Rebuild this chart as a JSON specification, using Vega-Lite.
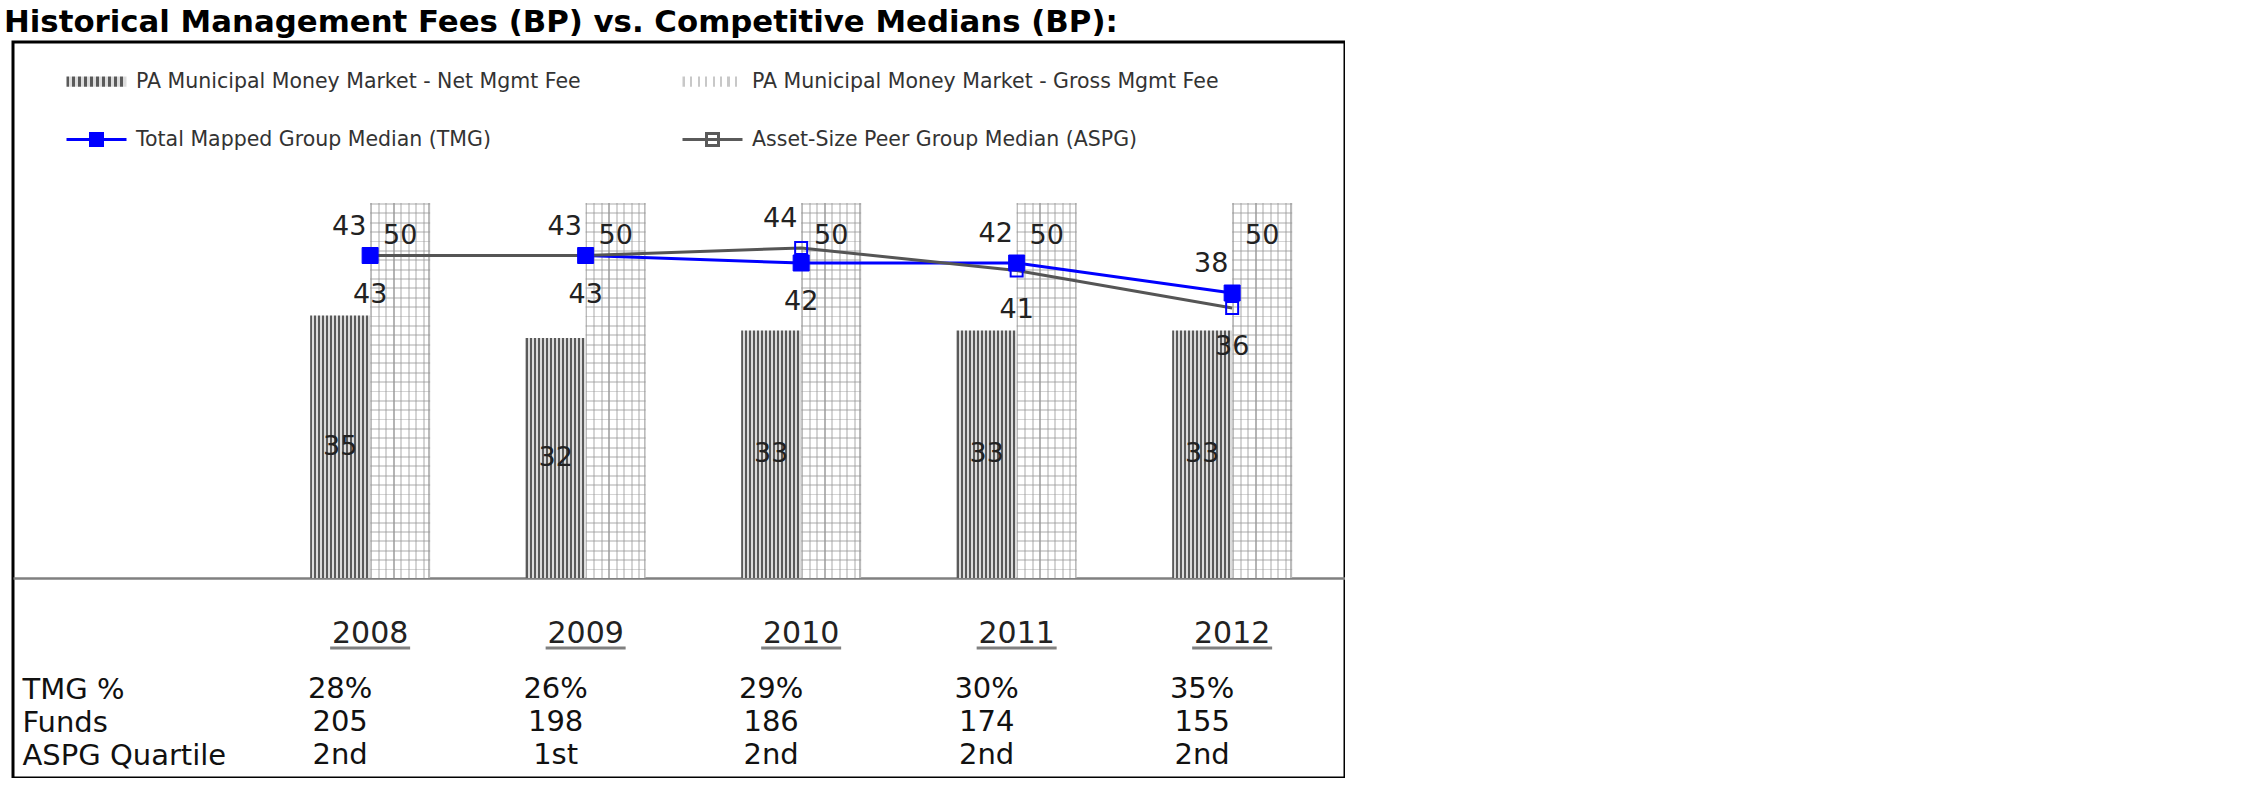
{
  "$schema": "https://vega.github.io/schema/vega-lite/v6.json",
  "width": 1332,
  "height": 736,
  "autosize": {"type": "none"},
  "padding": {"left": 13, "top": 42, "right": 0, "bottom": 0},
  "background": "#ffffff",
  "title": {
    "text": "Historical Management Fees (BP) vs. Competitive Medians (BP):",
    "anchor": "start",
    "frame": "group",
    "dx": -9,
    "dy": 30,
    "offset": 9,
    "baseline": "alphabetic",
    "font": "DejaVu Sans",
    "fontSize": 30.8,
    "fontWeight": "bold",
    "color": "#000000"
  },
  "data": {
    "values": [
      {"year": "2008", "net": 35, "gross": 50, "tmg": 43, "aspg": 43, "tmgPct": "28%", "funds": 205, "quartile": "2nd"},
      {"year": "2009", "net": 32, "gross": 50, "tmg": 43, "aspg": 43, "tmgPct": "26%", "funds": 198, "quartile": "1st"},
      {"year": "2010", "net": 33, "gross": 50, "tmg": 42, "aspg": 44, "tmgPct": "29%", "funds": 186, "quartile": "2nd"},
      {"year": "2011", "net": 33, "gross": 50, "tmg": 42, "aspg": 41, "tmgPct": "30%", "funds": 174, "quartile": "2nd"},
      {"year": "2012", "net": 33, "gross": 50, "tmg": 38, "aspg": 36, "tmgPct": "35%", "funds": 155, "quartile": "2nd"}
    ]
  },
  "resolve": {"scale": {"y": "independent"}},
  "layer": [
    {
      "encoding": {
        "x": {
          "field": "year",
          "type": "ordinal",
          "scale": {"type": "band", "paddingInner": 0.4432, "paddingOuter": 0.812, "align": 0.849},
          "axis": {
            "orient": "bottom",
            "offset": -200,
            "title": null,
            "ticks": false,
            "grid": false,
            "domainColor": "#808080",
            "domainWidth": 2.5,
            "labelFont": "DejaVu Sans",
            "labelFontSize": 30,
            "labelColor": "#222222",
            "labelPadding": 40,
            "labelAngle": 0
          }
        }
      },
      "layer": [
        {
          "mark": {
            "type": "point",
            "filled": true,
            "size": 0,
            "strokeWidth": 3,
            "shape": {"expr": "(datum.value === 'PA Municipal Money Market - Net Mgmt Fee' || datum.value === 'PA Municipal Money Market - Gross Mgmt Fee') ? 'M-1,-0.17H1V0.17H-1Z' : (datum.value === 'Total Mapped Group Median (TMG)' || datum.value === 'Asset-Size Peer Group Median (ASPG)') ? 'M-1,0H1M-0.2,-0.2H0.2V0.2H-0.2Z' : 'square'"},
            "fill": {"expr": "datum.value === 'PA Municipal Money Market - Net Mgmt Fee' ? {gradient: 'linear', x1: 0, y1: 0, x2: 1, y2: 0, stops: [{offset: 0, color: '#5a5a5a'}, {offset: 0.05, color: '#5a5a5a'}, {offset: 0.05, color: '#dcdcdc'}, {offset: 0.1, color: '#dcdcdc'}, {offset: 0.1, color: '#5a5a5a'}, {offset: 0.15, color: '#5a5a5a'}, {offset: 0.15, color: '#dcdcdc'}, {offset: 0.2, color: '#dcdcdc'}, {offset: 0.2, color: '#5a5a5a'}, {offset: 0.25, color: '#5a5a5a'}, {offset: 0.25, color: '#dcdcdc'}, {offset: 0.3, color: '#dcdcdc'}, {offset: 0.3, color: '#5a5a5a'}, {offset: 0.35, color: '#5a5a5a'}, {offset: 0.35, color: '#dcdcdc'}, {offset: 0.4, color: '#dcdcdc'}, {offset: 0.4, color: '#5a5a5a'}, {offset: 0.45, color: '#5a5a5a'}, {offset: 0.45, color: '#dcdcdc'}, {offset: 0.5, color: '#dcdcdc'}, {offset: 0.5, color: '#5a5a5a'}, {offset: 0.55, color: '#5a5a5a'}, {offset: 0.55, color: '#dcdcdc'}, {offset: 0.6, color: '#dcdcdc'}, {offset: 0.6, color: '#5a5a5a'}, {offset: 0.65, color: '#5a5a5a'}, {offset: 0.65, color: '#dcdcdc'}, {offset: 0.7, color: '#dcdcdc'}, {offset: 0.7, color: '#5a5a5a'}, {offset: 0.75, color: '#5a5a5a'}, {offset: 0.75, color: '#dcdcdc'}, {offset: 0.8, color: '#dcdcdc'}, {offset: 0.8, color: '#5a5a5a'}, {offset: 0.85, color: '#5a5a5a'}, {offset: 0.85, color: '#dcdcdc'}, {offset: 0.9, color: '#dcdcdc'}, {offset: 0.9, color: '#5a5a5a'}, {offset: 0.95, color: '#5a5a5a'}, {offset: 0.95, color: '#dcdcdc'}, {offset: 1, color: '#dcdcdc'}]} : datum.value === 'PA Municipal Money Market - Gross Mgmt Fee' ? {gradient: 'linear', x1: 0, y1: 0, x2: 1, y2: 0, stops: [{offset: 0, color: '#c8c8c8'}, {offset: 0.04, color: '#c8c8c8'}, {offset: 0.04, color: '#ffffff'}, {offset: 0.125, color: '#ffffff'}, {offset: 0.125, color: '#c8c8c8'}, {offset: 0.165, color: '#c8c8c8'}, {offset: 0.165, color: '#ffffff'}, {offset: 0.25, color: '#ffffff'}, {offset: 0.25, color: '#c8c8c8'}, {offset: 0.29, color: '#c8c8c8'}, {offset: 0.29, color: '#ffffff'}, {offset: 0.375, color: '#ffffff'}, {offset: 0.375, color: '#c8c8c8'}, {offset: 0.415, color: '#c8c8c8'}, {offset: 0.415, color: '#ffffff'}, {offset: 0.5, color: '#ffffff'}, {offset: 0.5, color: '#c8c8c8'}, {offset: 0.54, color: '#c8c8c8'}, {offset: 0.54, color: '#ffffff'}, {offset: 0.625, color: '#ffffff'}, {offset: 0.625, color: '#c8c8c8'}, {offset: 0.665, color: '#c8c8c8'}, {offset: 0.665, color: '#ffffff'}, {offset: 0.75, color: '#ffffff'}, {offset: 0.75, color: '#c8c8c8'}, {offset: 0.79, color: '#c8c8c8'}, {offset: 0.79, color: '#ffffff'}, {offset: 0.875, color: '#ffffff'}, {offset: 0.875, color: '#c8c8c8'}, {offset: 0.915, color: '#c8c8c8'}, {offset: 0.915, color: '#ffffff'}, {offset: 1, color: '#ffffff'}]} : datum.value === 'Asset-Size Peer Group Median (ASPG)' ? '#ffffff' : '#0000ff'"},
            "stroke": {"expr": "(datum.value === 'PA Municipal Money Market - Net Mgmt Fee' || datum.value === 'PA Municipal Money Market - Gross Mgmt Fee') ? 'transparent' : datum.value === 'Asset-Size Peer Group Median (ASPG)' ? '#5a5a5a' : '#0000ff'"}
          },
          "encoding": {
            "y": {"field": "tmg", "type": "quantitative", "scale": {"domain": [-26.667, 71.467], "nice": false, "zero": false}, "axis": null},
            "opacity": {
              "datum": "Total Mapped Group Median (TMG)",
              "type": "ordinal",
              "scale": {
                "domain": ["PA Municipal Money Market - Net Mgmt Fee", "PA Municipal Money Market - Gross Mgmt Fee", "Total Mapped Group Median (TMG)", "Asset-Size Peer Group Median (ASPG)"],
                "range": [1, 1, 1, 1]
              },
              "legend": {
                "orient": "none",
                "legendX": 52,
                "legendY": 8,
                "columns": 2,
                "direction": "horizontal",
                "title": null,
                "symbolSize": 3600,
                "symbolType": {"expr": "(datum.value === 'PA Municipal Money Market - Net Mgmt Fee' || datum.value === 'PA Municipal Money Market - Gross Mgmt Fee') ? 'M-1,-0.17H1V0.17H-1Z' : 'M-1,0H1M-0.2,-0.2H0.2V0.2H-0.2Z'"},
                "symbolStrokeWidth": 3,
                "symbolOpacity": 1,
                "labelFont": "DejaVu Sans",
                "labelFontSize": 20.5,
                "labelColor": "#333333",
                "labelOffset": 8,
                "labelLimit": 700,
                "columnPadding": 95,
                "rowPadding": 15,
                "padding": 0
              }
            }
          }
        },
        {
          "mark": {"type": "bar", "opacity": 1, "fill": {"gradient": "linear", "x1": 0, "y1": 0, "x2": 1, "y2": 0, "stops": [
            {"offset": 0, "color": "#bbbbbb"}, {"offset": 0.03, "color": "#bbbbbb"}, {"offset": 0.03, "color": "#ffffff"},
            {"offset": 0.125, "color": "#ffffff"}, {"offset": 0.125, "color": "#d4d4d4"}, {"offset": 0.158, "color": "#d4d4d4"}, {"offset": 0.158, "color": "#ffffff"},
            {"offset": 0.25, "color": "#ffffff"}, {"offset": 0.25, "color": "#d4d4d4"}, {"offset": 0.283, "color": "#d4d4d4"}, {"offset": 0.283, "color": "#ffffff"},
            {"offset": 0.375, "color": "#ffffff"}, {"offset": 0.375, "color": "#b4b4b4"}, {"offset": 0.41, "color": "#b4b4b4"}, {"offset": 0.41, "color": "#ffffff"},
            {"offset": 0.5, "color": "#ffffff"}, {"offset": 0.5, "color": "#d4d4d4"}, {"offset": 0.533, "color": "#d4d4d4"}, {"offset": 0.533, "color": "#ffffff"},
            {"offset": 0.625, "color": "#ffffff"}, {"offset": 0.625, "color": "#d4d4d4"}, {"offset": 0.658, "color": "#d4d4d4"}, {"offset": 0.658, "color": "#ffffff"},
            {"offset": 0.75, "color": "#ffffff"}, {"offset": 0.75, "color": "#d4d4d4"}, {"offset": 0.783, "color": "#d4d4d4"}, {"offset": 0.783, "color": "#ffffff"},
            {"offset": 0.875, "color": "#ffffff"}, {"offset": 0.875, "color": "#d4d4d4"}, {"offset": 0.908, "color": "#d4d4d4"}, {"offset": 0.908, "color": "#ffffff"},
            {"offset": 0.97, "color": "#ffffff"}, {"offset": 0.97, "color": "#bbbbbb"}, {"offset": 1, "color": "#bbbbbb"}
          ]}},
          "encoding": {
            "xOffset": {"datum": "Gross", "type": "nominal", "scale": {"domain": ["Net", "Gross"], "paddingInner": 0, "paddingOuter": 0}},
            "y": {"field": "gross", "type": "quantitative", "axis": null},
            "y2": {"datum": 0}
          }
        },
        {
          "mark": {"type": "bar", "opacity": 1, "fill": {"gradient": "linear", "x1": 0, "y1": 0, "x2": 0, "y2": 1, "stops": [
            {"offset": 0, "color": "rgba(150,150,150,0.4)"}, {"offset": 0.005, "color": "rgba(150,150,150,0.4)"}, {"offset": 0.005, "color": "rgba(255,255,255,0)"},
            {"offset": 0.025, "color": "rgba(255,255,255,0)"}, {"offset": 0.025, "color": "rgba(150,150,150,0.4)"}, {"offset": 0.03, "color": "rgba(150,150,150,0.4)"}, {"offset": 0.03, "color": "rgba(255,255,255,0)"},
            {"offset": 0.05, "color": "rgba(255,255,255,0)"}, {"offset": 0.05, "color": "rgba(150,150,150,0.4)"}, {"offset": 0.055, "color": "rgba(150,150,150,0.4)"}, {"offset": 0.055, "color": "rgba(255,255,255,0)"},
            {"offset": 0.075, "color": "rgba(255,255,255,0)"}, {"offset": 0.075, "color": "rgba(150,150,150,0.4)"}, {"offset": 0.08, "color": "rgba(150,150,150,0.4)"}, {"offset": 0.08, "color": "rgba(255,255,255,0)"},
            {"offset": 0.1, "color": "rgba(255,255,255,0)"}, {"offset": 0.1, "color": "rgba(150,150,150,0.4)"}, {"offset": 0.105, "color": "rgba(150,150,150,0.4)"}, {"offset": 0.105, "color": "rgba(255,255,255,0)"},
            {"offset": 0.125, "color": "rgba(255,255,255,0)"}, {"offset": 0.125, "color": "rgba(150,150,150,0.4)"}, {"offset": 0.13, "color": "rgba(150,150,150,0.4)"}, {"offset": 0.13, "color": "rgba(255,255,255,0)"},
            {"offset": 0.15, "color": "rgba(255,255,255,0)"}, {"offset": 0.15, "color": "rgba(150,150,150,0.4)"}, {"offset": 0.155, "color": "rgba(150,150,150,0.4)"}, {"offset": 0.155, "color": "rgba(255,255,255,0)"},
            {"offset": 0.175, "color": "rgba(255,255,255,0)"}, {"offset": 0.175, "color": "rgba(150,150,150,0.4)"}, {"offset": 0.18, "color": "rgba(150,150,150,0.4)"}, {"offset": 0.18, "color": "rgba(255,255,255,0)"},
            {"offset": 0.2, "color": "rgba(255,255,255,0)"}, {"offset": 0.2, "color": "rgba(150,150,150,0.4)"}, {"offset": 0.205, "color": "rgba(150,150,150,0.4)"}, {"offset": 0.205, "color": "rgba(255,255,255,0)"},
            {"offset": 0.225, "color": "rgba(255,255,255,0)"}, {"offset": 0.225, "color": "rgba(150,150,150,0.4)"}, {"offset": 0.23, "color": "rgba(150,150,150,0.4)"}, {"offset": 0.23, "color": "rgba(255,255,255,0)"},
            {"offset": 0.25, "color": "rgba(255,255,255,0)"}, {"offset": 0.25, "color": "rgba(150,150,150,0.4)"}, {"offset": 0.255, "color": "rgba(150,150,150,0.4)"}, {"offset": 0.255, "color": "rgba(255,255,255,0)"},
            {"offset": 0.275, "color": "rgba(255,255,255,0)"}, {"offset": 0.275, "color": "rgba(150,150,150,0.4)"}, {"offset": 0.28, "color": "rgba(150,150,150,0.4)"}, {"offset": 0.28, "color": "rgba(255,255,255,0)"},
            {"offset": 0.3, "color": "rgba(255,255,255,0)"}, {"offset": 0.3, "color": "rgba(150,150,150,0.4)"}, {"offset": 0.305, "color": "rgba(150,150,150,0.4)"}, {"offset": 0.305, "color": "rgba(255,255,255,0)"},
            {"offset": 0.325, "color": "rgba(255,255,255,0)"}, {"offset": 0.325, "color": "rgba(150,150,150,0.4)"}, {"offset": 0.33, "color": "rgba(150,150,150,0.4)"}, {"offset": 0.33, "color": "rgba(255,255,255,0)"},
            {"offset": 0.35, "color": "rgba(255,255,255,0)"}, {"offset": 0.35, "color": "rgba(150,150,150,0.4)"}, {"offset": 0.355, "color": "rgba(150,150,150,0.4)"}, {"offset": 0.355, "color": "rgba(255,255,255,0)"},
            {"offset": 0.375, "color": "rgba(255,255,255,0)"}, {"offset": 0.375, "color": "rgba(150,150,150,0.4)"}, {"offset": 0.38, "color": "rgba(150,150,150,0.4)"}, {"offset": 0.38, "color": "rgba(255,255,255,0)"},
            {"offset": 0.4, "color": "rgba(255,255,255,0)"}, {"offset": 0.4, "color": "rgba(150,150,150,0.4)"}, {"offset": 0.405, "color": "rgba(150,150,150,0.4)"}, {"offset": 0.405, "color": "rgba(255,255,255,0)"},
            {"offset": 0.425, "color": "rgba(255,255,255,0)"}, {"offset": 0.425, "color": "rgba(150,150,150,0.4)"}, {"offset": 0.43, "color": "rgba(150,150,150,0.4)"}, {"offset": 0.43, "color": "rgba(255,255,255,0)"},
            {"offset": 0.45, "color": "rgba(255,255,255,0)"}, {"offset": 0.45, "color": "rgba(150,150,150,0.4)"}, {"offset": 0.455, "color": "rgba(150,150,150,0.4)"}, {"offset": 0.455, "color": "rgba(255,255,255,0)"},
            {"offset": 0.475, "color": "rgba(255,255,255,0)"}, {"offset": 0.475, "color": "rgba(150,150,150,0.4)"}, {"offset": 0.48, "color": "rgba(150,150,150,0.4)"}, {"offset": 0.48, "color": "rgba(255,255,255,0)"},
            {"offset": 0.5, "color": "rgba(255,255,255,0)"}, {"offset": 0.5, "color": "rgba(150,150,150,0.4)"}, {"offset": 0.505, "color": "rgba(150,150,150,0.4)"}, {"offset": 0.505, "color": "rgba(255,255,255,0)"},
            {"offset": 0.525, "color": "rgba(255,255,255,0)"}, {"offset": 0.525, "color": "rgba(150,150,150,0.4)"}, {"offset": 0.53, "color": "rgba(150,150,150,0.4)"}, {"offset": 0.53, "color": "rgba(255,255,255,0)"},
            {"offset": 0.55, "color": "rgba(255,255,255,0)"}, {"offset": 0.55, "color": "rgba(150,150,150,0.4)"}, {"offset": 0.555, "color": "rgba(150,150,150,0.4)"}, {"offset": 0.555, "color": "rgba(255,255,255,0)"},
            {"offset": 0.575, "color": "rgba(255,255,255,0)"}, {"offset": 0.575, "color": "rgba(150,150,150,0.4)"}, {"offset": 0.58, "color": "rgba(150,150,150,0.4)"}, {"offset": 0.58, "color": "rgba(255,255,255,0)"},
            {"offset": 0.6, "color": "rgba(255,255,255,0)"}, {"offset": 0.6, "color": "rgba(150,150,150,0.4)"}, {"offset": 0.605, "color": "rgba(150,150,150,0.4)"}, {"offset": 0.605, "color": "rgba(255,255,255,0)"},
            {"offset": 0.625, "color": "rgba(255,255,255,0)"}, {"offset": 0.625, "color": "rgba(150,150,150,0.4)"}, {"offset": 0.63, "color": "rgba(150,150,150,0.4)"}, {"offset": 0.63, "color": "rgba(255,255,255,0)"},
            {"offset": 0.65, "color": "rgba(255,255,255,0)"}, {"offset": 0.65, "color": "rgba(150,150,150,0.4)"}, {"offset": 0.655, "color": "rgba(150,150,150,0.4)"}, {"offset": 0.655, "color": "rgba(255,255,255,0)"},
            {"offset": 0.675, "color": "rgba(255,255,255,0)"}, {"offset": 0.675, "color": "rgba(150,150,150,0.4)"}, {"offset": 0.68, "color": "rgba(150,150,150,0.4)"}, {"offset": 0.68, "color": "rgba(255,255,255,0)"},
            {"offset": 0.7, "color": "rgba(255,255,255,0)"}, {"offset": 0.7, "color": "rgba(150,150,150,0.4)"}, {"offset": 0.705, "color": "rgba(150,150,150,0.4)"}, {"offset": 0.705, "color": "rgba(255,255,255,0)"},
            {"offset": 0.725, "color": "rgba(255,255,255,0)"}, {"offset": 0.725, "color": "rgba(150,150,150,0.4)"}, {"offset": 0.73, "color": "rgba(150,150,150,0.4)"}, {"offset": 0.73, "color": "rgba(255,255,255,0)"},
            {"offset": 0.75, "color": "rgba(255,255,255,0)"}, {"offset": 0.75, "color": "rgba(150,150,150,0.4)"}, {"offset": 0.755, "color": "rgba(150,150,150,0.4)"}, {"offset": 0.755, "color": "rgba(255,255,255,0)"},
            {"offset": 0.775, "color": "rgba(255,255,255,0)"}, {"offset": 0.775, "color": "rgba(150,150,150,0.4)"}, {"offset": 0.78, "color": "rgba(150,150,150,0.4)"}, {"offset": 0.78, "color": "rgba(255,255,255,0)"},
            {"offset": 0.8, "color": "rgba(255,255,255,0)"}, {"offset": 0.8, "color": "rgba(150,150,150,0.4)"}, {"offset": 0.805, "color": "rgba(150,150,150,0.4)"}, {"offset": 0.805, "color": "rgba(255,255,255,0)"},
            {"offset": 0.825, "color": "rgba(255,255,255,0)"}, {"offset": 0.825, "color": "rgba(150,150,150,0.4)"}, {"offset": 0.83, "color": "rgba(150,150,150,0.4)"}, {"offset": 0.83, "color": "rgba(255,255,255,0)"},
            {"offset": 0.85, "color": "rgba(255,255,255,0)"}, {"offset": 0.85, "color": "rgba(150,150,150,0.4)"}, {"offset": 0.855, "color": "rgba(150,150,150,0.4)"}, {"offset": 0.855, "color": "rgba(255,255,255,0)"},
            {"offset": 0.875, "color": "rgba(255,255,255,0)"}, {"offset": 0.875, "color": "rgba(150,150,150,0.4)"}, {"offset": 0.88, "color": "rgba(150,150,150,0.4)"}, {"offset": 0.88, "color": "rgba(255,255,255,0)"},
            {"offset": 0.9, "color": "rgba(255,255,255,0)"}, {"offset": 0.9, "color": "rgba(150,150,150,0.4)"}, {"offset": 0.905, "color": "rgba(150,150,150,0.4)"}, {"offset": 0.905, "color": "rgba(255,255,255,0)"},
            {"offset": 0.925, "color": "rgba(255,255,255,0)"}, {"offset": 0.925, "color": "rgba(150,150,150,0.4)"}, {"offset": 0.93, "color": "rgba(150,150,150,0.4)"}, {"offset": 0.93, "color": "rgba(255,255,255,0)"},
            {"offset": 0.95, "color": "rgba(255,255,255,0)"}, {"offset": 0.95, "color": "rgba(150,150,150,0.4)"}, {"offset": 0.955, "color": "rgba(150,150,150,0.4)"}, {"offset": 0.955, "color": "rgba(255,255,255,0)"},
            {"offset": 0.975, "color": "rgba(255,255,255,0)"}, {"offset": 0.975, "color": "rgba(150,150,150,0.4)"}, {"offset": 0.98, "color": "rgba(150,150,150,0.4)"}, {"offset": 0.98, "color": "rgba(255,255,255,0)"},
            {"offset": 1, "color": "rgba(255,255,255,0)"}
          ]}},
          "encoding": {
            "xOffset": {"datum": "Gross", "type": "nominal"},
            "y": {"field": "gross", "type": "quantitative", "axis": null},
            "y2": {"datum": 0}
          }
        },
        {
          "mark": {"type": "bar", "opacity": 1, "fill": {"gradient": "linear", "x1": 0, "y1": 0, "x2": 1, "y2": 0, "stops": [
            {"offset": 0, "color": "#5a5a5a"}, {"offset": 0.0333, "color": "#5a5a5a"}, {"offset": 0.0333, "color": "#dcdcdc"}, {"offset": 0.0667, "color": "#dcdcdc"},
            {"offset": 0.0667, "color": "#5a5a5a"}, {"offset": 0.1, "color": "#5a5a5a"}, {"offset": 0.1, "color": "#dcdcdc"}, {"offset": 0.1333, "color": "#dcdcdc"},
            {"offset": 0.1333, "color": "#5a5a5a"}, {"offset": 0.1667, "color": "#5a5a5a"}, {"offset": 0.1667, "color": "#dcdcdc"}, {"offset": 0.2, "color": "#dcdcdc"},
            {"offset": 0.2, "color": "#5a5a5a"}, {"offset": 0.2333, "color": "#5a5a5a"}, {"offset": 0.2333, "color": "#dcdcdc"}, {"offset": 0.2667, "color": "#dcdcdc"},
            {"offset": 0.2667, "color": "#5a5a5a"}, {"offset": 0.3, "color": "#5a5a5a"}, {"offset": 0.3, "color": "#dcdcdc"}, {"offset": 0.3333, "color": "#dcdcdc"},
            {"offset": 0.3333, "color": "#5a5a5a"}, {"offset": 0.3667, "color": "#5a5a5a"}, {"offset": 0.3667, "color": "#dcdcdc"}, {"offset": 0.4, "color": "#dcdcdc"},
            {"offset": 0.4, "color": "#5a5a5a"}, {"offset": 0.4333, "color": "#5a5a5a"}, {"offset": 0.4333, "color": "#dcdcdc"}, {"offset": 0.4667, "color": "#dcdcdc"},
            {"offset": 0.4667, "color": "#5a5a5a"}, {"offset": 0.5, "color": "#5a5a5a"}, {"offset": 0.5, "color": "#dcdcdc"}, {"offset": 0.5333, "color": "#dcdcdc"},
            {"offset": 0.5333, "color": "#5a5a5a"}, {"offset": 0.5667, "color": "#5a5a5a"}, {"offset": 0.5667, "color": "#dcdcdc"}, {"offset": 0.6, "color": "#dcdcdc"},
            {"offset": 0.6, "color": "#5a5a5a"}, {"offset": 0.6333, "color": "#5a5a5a"}, {"offset": 0.6333, "color": "#dcdcdc"}, {"offset": 0.6667, "color": "#dcdcdc"},
            {"offset": 0.6667, "color": "#5a5a5a"}, {"offset": 0.7, "color": "#5a5a5a"}, {"offset": 0.7, "color": "#dcdcdc"}, {"offset": 0.7333, "color": "#dcdcdc"},
            {"offset": 0.7333, "color": "#5a5a5a"}, {"offset": 0.7667, "color": "#5a5a5a"}, {"offset": 0.7667, "color": "#dcdcdc"}, {"offset": 0.8, "color": "#dcdcdc"},
            {"offset": 0.8, "color": "#5a5a5a"}, {"offset": 0.8333, "color": "#5a5a5a"}, {"offset": 0.8333, "color": "#dcdcdc"}, {"offset": 0.8667, "color": "#dcdcdc"},
            {"offset": 0.8667, "color": "#5a5a5a"}, {"offset": 0.9, "color": "#5a5a5a"}, {"offset": 0.9, "color": "#dcdcdc"}, {"offset": 0.9333, "color": "#dcdcdc"},
            {"offset": 0.9333, "color": "#5a5a5a"}, {"offset": 0.9667, "color": "#5a5a5a"}, {"offset": 0.9667, "color": "#dcdcdc"}, {"offset": 1, "color": "#dcdcdc"}
          ]}},
          "encoding": {
            "xOffset": {"datum": "Net", "type": "nominal"},
            "y": {"field": "net", "type": "quantitative", "axis": null},
            "y2": {"datum": 0}
          }
        },
        {
          "mark": {"type": "tick", "orient": "horizontal", "color": "#808080", "thickness": 3, "size": 80, "opacity": 1},
          "encoding": {
            "y": {"datum": -9.333, "type": "quantitative", "axis": null}
          }
        },
        {
          "mark": {"type": "line", "color": "#0000ff", "strokeWidth": 3},
          "encoding": {
            "y": {"field": "tmg", "type": "quantitative", "axis": null}
          }
        },
        {
          "mark": {"type": "line", "color": "#555555", "strokeWidth": 3},
          "encoding": {
            "y": {"field": "aspg", "type": "quantitative", "axis": null}
          }
        },
        {
          "mark": {"type": "point", "shape": "square", "filled": false, "stroke": "#0000ff", "strokeWidth": 2, "size": 144, "opacity": 1},
          "encoding": {
            "y": {"field": "aspg", "type": "quantitative", "axis": null}
          }
        },
        {
          "mark": {"type": "point", "shape": "square", "filled": true, "fill": "#0000ff", "stroke": "#0000ff", "strokeWidth": 1, "size": 256, "opacity": 1},
          "encoding": {
            "y": {"field": "tmg", "type": "quantitative", "axis": null}
          }
        },
        {
          "mark": {"type": "text", "dy": 33, "fontSize": 27, "font": "DejaVu Sans", "color": "#222222", "baseline": "middle", "align": "center"},
          "encoding": {
            "xOffset": {"datum": "Gross", "type": "nominal"},
            "y": {"field": "gross", "type": "quantitative", "axis": null},
            "text": {"field": "gross", "type": "quantitative"}
          }
        },
        {
          "transform": [{"filter": "datum.tmg >= datum.aspg"}],
          "mark": {"type": "text", "dx": -21, "dy": -29, "fontSize": 27, "font": "DejaVu Sans", "color": "#222222", "baseline": "middle", "align": "center"},
          "encoding": {
            "y": {"field": "tmg", "type": "quantitative", "axis": null},
            "text": {"field": "tmg", "type": "quantitative"}
          }
        },
        {
          "transform": [{"filter": "datum.tmg < datum.aspg"}],
          "mark": {"type": "text", "dy": 39, "fontSize": 27, "font": "DejaVu Sans", "color": "#222222", "baseline": "middle", "align": "center"},
          "encoding": {
            "y": {"field": "tmg", "type": "quantitative", "axis": null},
            "text": {"field": "tmg", "type": "quantitative"}
          }
        },
        {
          "transform": [{"filter": "datum.aspg > datum.tmg"}],
          "mark": {"type": "text", "dx": -21, "dy": -29, "fontSize": 27, "font": "DejaVu Sans", "color": "#222222", "baseline": "middle", "align": "center"},
          "encoding": {
            "y": {"field": "aspg", "type": "quantitative", "axis": null},
            "text": {"field": "aspg", "type": "quantitative"}
          }
        },
        {
          "transform": [{"filter": "datum.aspg <= datum.tmg"}],
          "mark": {"type": "text", "dy": 39, "fontSize": 27, "font": "DejaVu Sans", "color": "#222222", "baseline": "middle", "align": "center"},
          "encoding": {
            "y": {"field": "aspg", "type": "quantitative", "axis": null},
            "text": {"field": "aspg", "type": "quantitative"}
          }
        }
      ]
    },
    {
      "mark": {"type": "text", "fontSize": 27, "font": "DejaVu Sans", "color": "#222222", "baseline": "middle", "align": "center"},
      "encoding": {
        "x": {"field": "year", "type": "ordinal"},
        "xOffset": {"datum": "Net", "type": "nominal"},
        "y": {"field": "net", "type": "quantitative", "scale": {"domain": [-53.333, 142.933], "nice": false, "zero": false}, "axis": null},
        "text": {"field": "net", "type": "quantitative"}
      }
    },
    {
      "transform": [{"fold": ["tmgPct", "funds", "quartile"], "as": ["row", "value"]}],
      "mark": {"type": "text", "fontSize": 29, "font": "DejaVu Sans", "color": "#111111", "baseline": "middle", "align": "center"},
      "encoding": {
        "x": {"field": "year", "type": "ordinal"},
        "xOffset": {"datum": "Net", "type": "nominal"},
        "y": {
          "field": "row",
          "type": "nominal",
          "scale": {"type": "point", "domain": ["tmgPct", "funds", "quartile"], "range": [647, 713], "padding": 0},
          "axis": {
            "orient": "left",
            "title": null,
            "domain": false,
            "ticks": false,
            "tickSize": 0,
            "grid": false,
            "labelAlign": "left",
            "labelBaseline": "middle",
            "labelPadding": -9,
            "labelFont": "DejaVu Sans",
            "labelFontSize": 29,
            "labelColor": "#111111",
            "labelLimit": 400,
            "labelExpr": "datum.value === 'tmgPct' ? 'TMG %' : datum.value === 'funds' ? 'Funds' : 'ASPG Quartile'"
          }
        },
        "text": {"field": "value", "type": "nominal"}
      }
    }
  ],
  "config": {
    "view": {"stroke": "#000000", "strokeWidth": 3, "fill": "#ffffff"},
    "font": "DejaVu Sans"
  }
}
